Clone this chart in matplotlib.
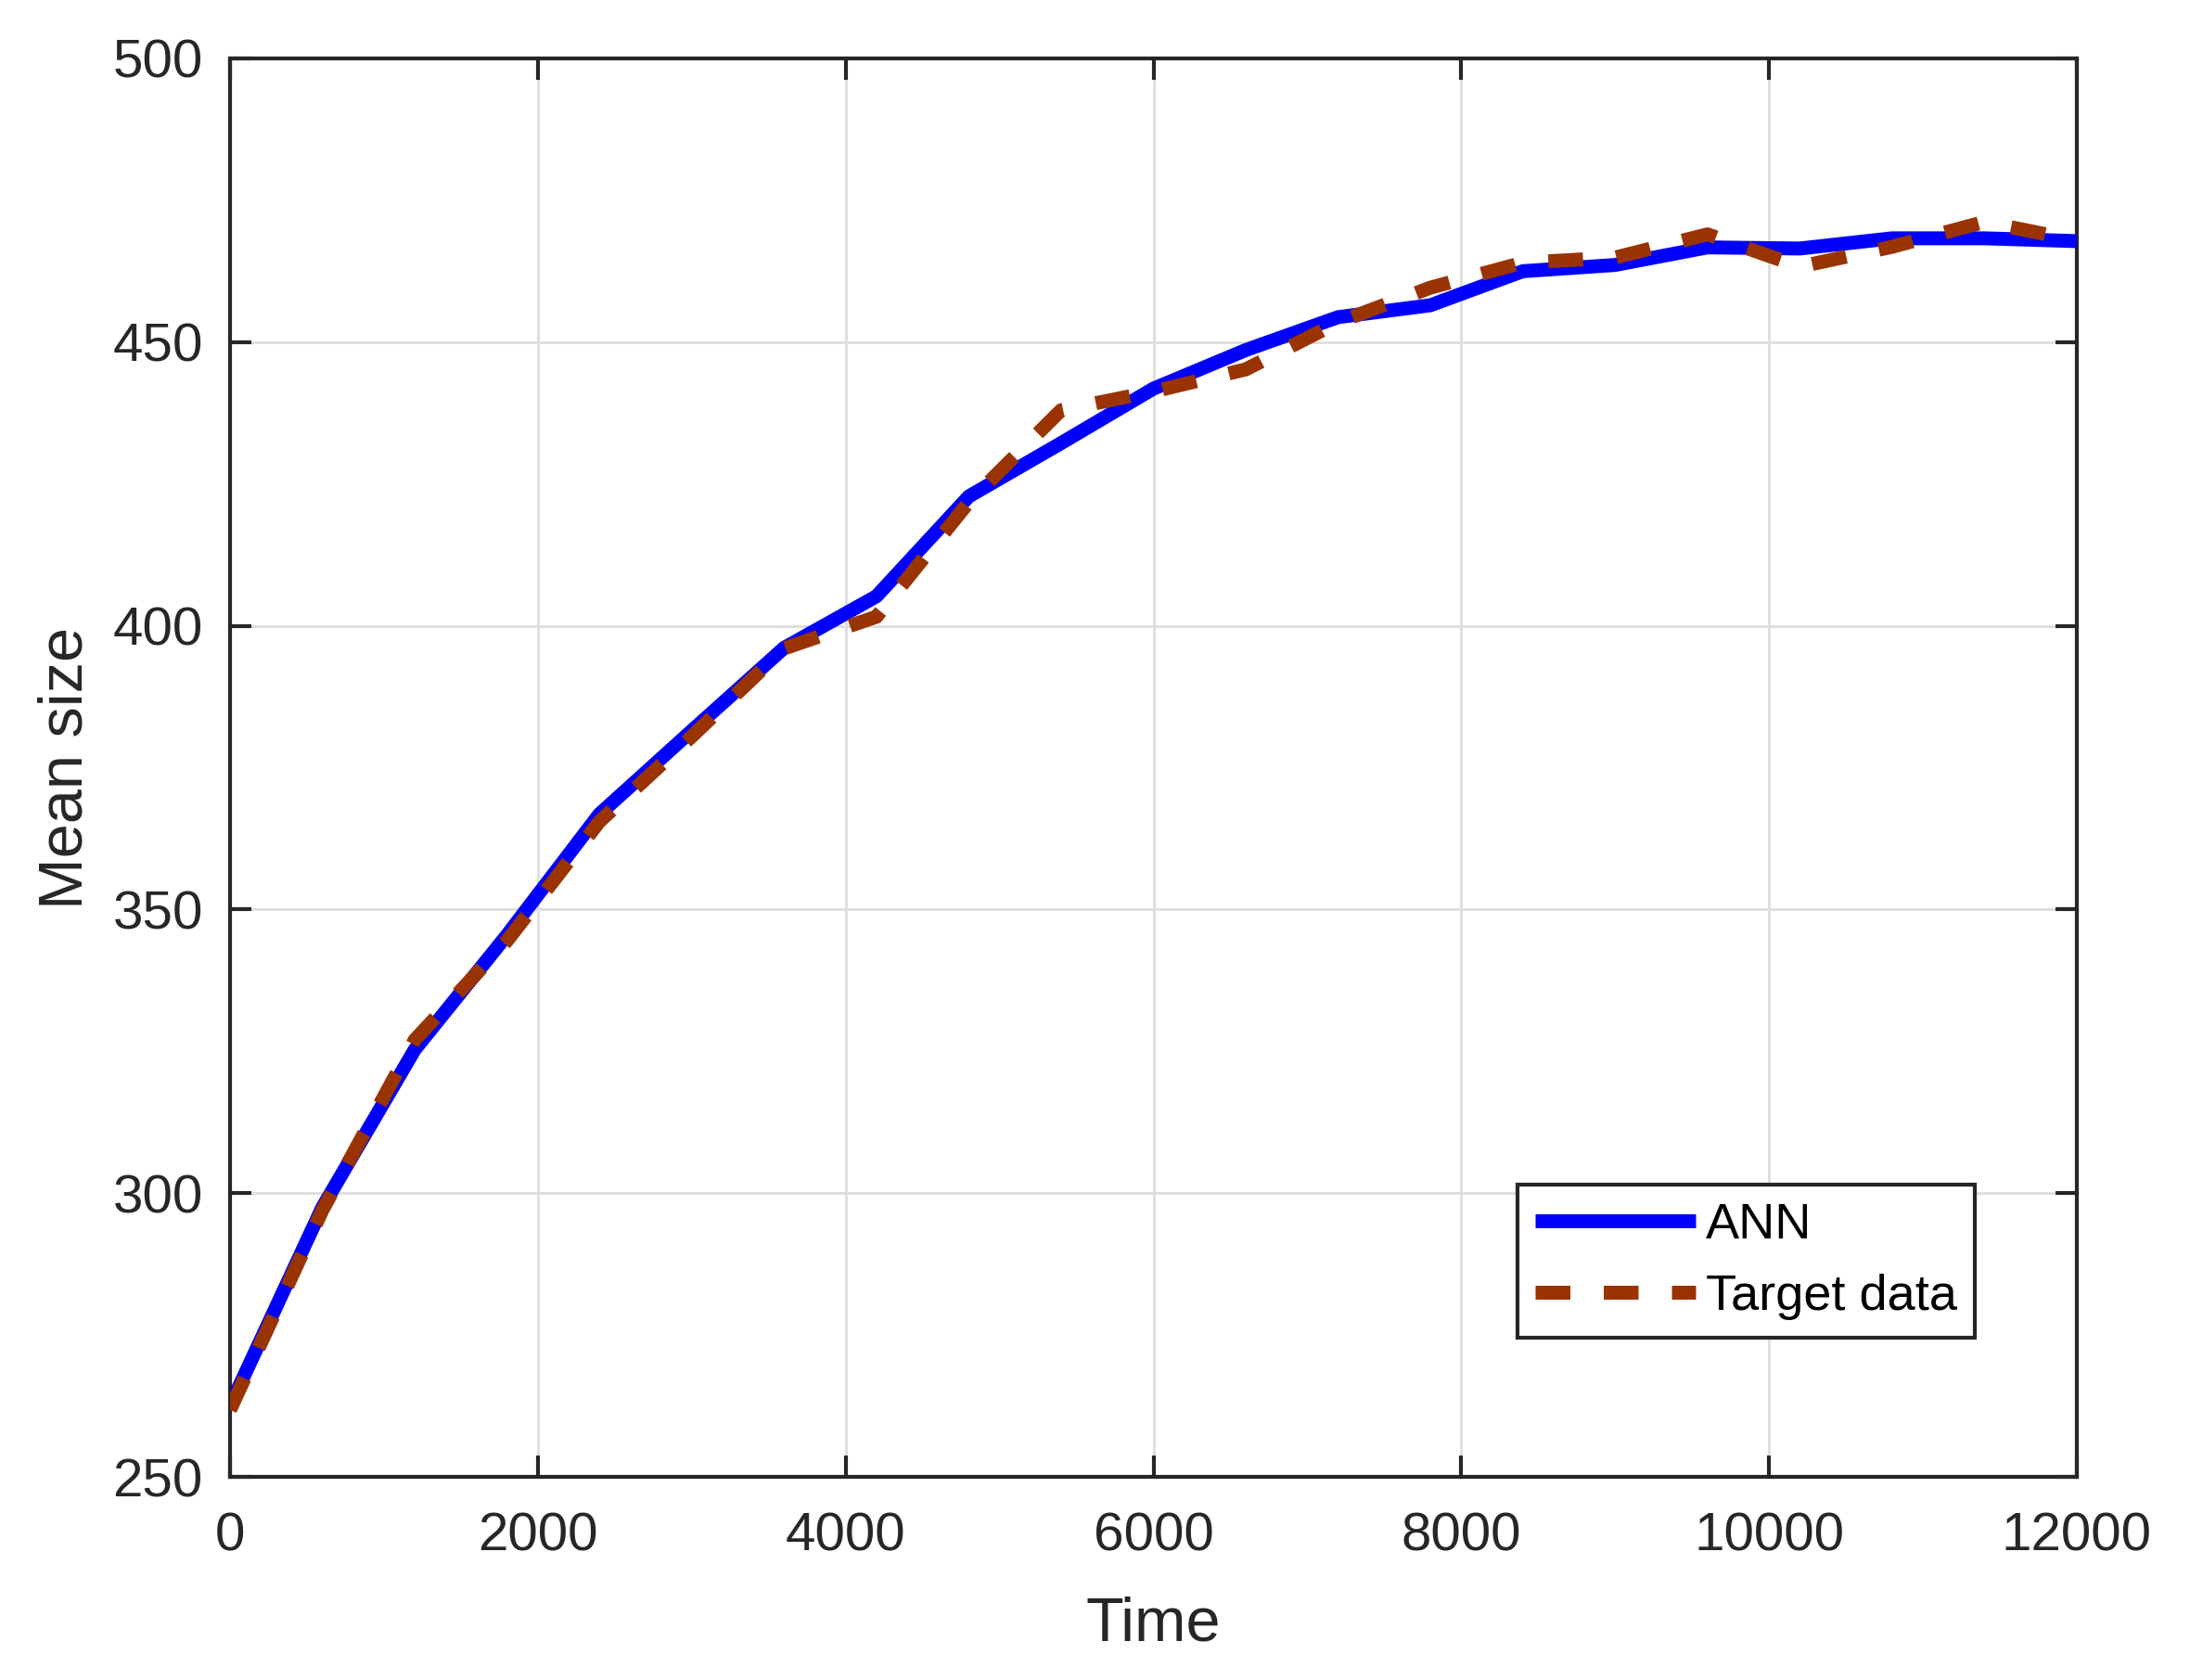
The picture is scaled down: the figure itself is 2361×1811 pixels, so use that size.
import matplotlib as mpl
import matplotlib.pyplot as plt

# ── data ──────────────────────────────────────────────────────────────
time = [0, 600, 1200, 1800, 2400, 3000, 3600, 4200, 4800, 5400, 6000,
        6600, 7200, 7800, 8400, 9000, 9600, 10200, 10800, 11400, 12000]

ann = [262.5, 297.5, 325.3, 345.5, 366.8, 381.5, 396.1, 405.2, 422.8,
       432.2, 441.8, 448.6, 454.4, 456.5, 462.5, 463.6, 466.7, 466.5,
       468.3, 468.3, 467.8]

target = [261.8, 297.0, 327.0, 344.5, 365.5, 380.5, 396.0, 401.6, 421.8,
          438.0, 441.3, 445.2, 453.5, 459.6, 464.0, 464.9, 469.0, 463.3,
          466.8, 471.2, 467.9]

x_ticks = [0, 2000, 4000, 6000, 8000, 10000, 12000]
y_ticks = [250, 300, 350, 400, 450, 500]

# ── style: MATLAB-ish ─────────────────────────────────────────────────
dark = "#262626"
mpl.rcParams.update({
    "font.family": ["Liberation Sans", "DejaVu Sans"],
    "font.size": 14,
    "text.color": dark,
    "axes.edgecolor": dark,
    "axes.labelcolor": dark,
    "axes.linewidth": 1.0,
    "xtick.color": dark,
    "ytick.color": dark,
    "xtick.direction": "in",
    "ytick.direction": "in",
    "xtick.major.size": 5.5,
    "ytick.major.size": 5.5,
    "xtick.major.width": 1.0,
    "ytick.major.width": 1.0,
    "xtick.top": True,
    "ytick.right": True,
})

fig = plt.figure(figsize=(2361 / 300, 1811 / 300), dpi=300)
ax = fig.add_axes([248 / 2361, 1 - 1592 / 1811,
                   (2239 - 248) / 2361, (1592 - 63) / 1811])

ax.plot(time, ann, color="#0000FF", linewidth=3.6,
        solid_joinstyle="round", solid_capstyle="butt",
        label="ANN", zorder=3)
ax.plot(time, target, color="#993300", linewidth=3.6,
        linestyle=(0, (2.5, 2.4)), dash_capstyle="butt",
        label="Target data", zorder=4)

ax.set_xlim(0, 12000)
ax.set_ylim(250, 500)
ax.set_xticks(x_ticks)
ax.set_yticks(y_ticks)
ax.tick_params(axis="x", labelsize=14, pad=9)
ax.tick_params(axis="y", labelsize=14, pad=7)

ax.grid(True, color="#dedede", linewidth=0.7)
ax.set_axisbelow(True)

ax.set_xlabel("Time", fontsize=16)
ax.set_ylabel("Mean size", fontsize=16)
ax.xaxis.set_label_coords(0.5, -0.084)
ax.yaxis.set_label_coords(-0.073, 0.5)

leg = ax.legend(loc="lower left",
                bbox_to_anchor=(1636 / 2361, 1 - 1442 / 1811),
                bbox_transform=fig.transFigure,
                borderaxespad=0, fontsize=13, fancybox=False,
                framealpha=1, edgecolor=dark, handlelength=3.2,
                handletextpad=0.2, labelspacing=0.5, borderpad=0.35)
leg.get_frame().set_linewidth(1.0)
for t in leg.get_texts():
    t.set_color("black")

fig.savefig("out.png", dpi=300)
